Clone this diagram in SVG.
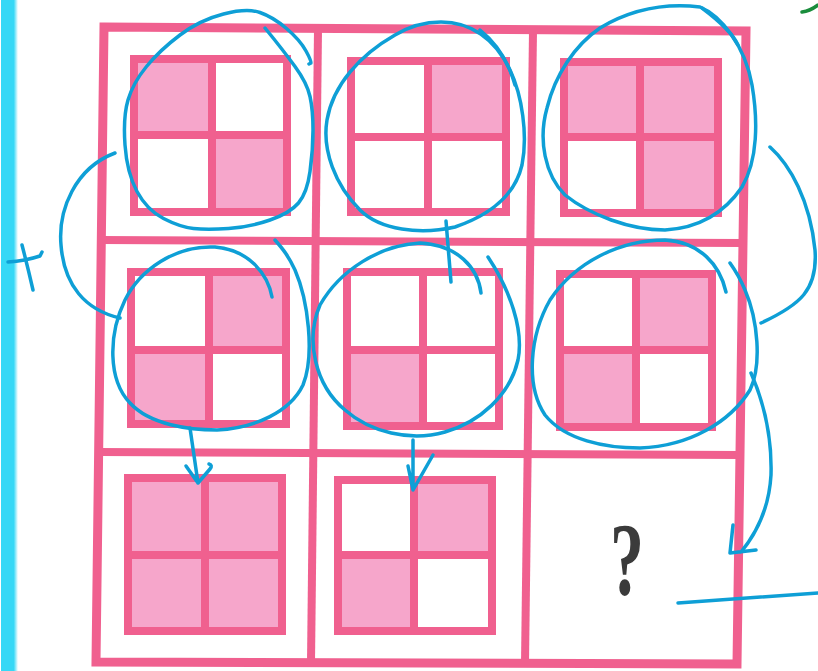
<svg xmlns="http://www.w3.org/2000/svg" width="818" height="671" viewBox="0 0 818 671">
<defs>
<style>
.gl{fill:none;stroke:#f0608f;stroke-width:9;stroke-linejoin:miter}
.dv{stroke:#f0608f;stroke-width:8;fill:none}
.ln{fill:#f0608f}
.pk{fill:#f6a6cb}
.wh{fill:#ffffff}
.bl{fill:none;stroke:#0e9fd6;stroke-width:3.5;stroke-linecap:round;stroke-linejoin:round}
</style>
<linearGradient id="bar" x1="0" x2="1" y1="0" y2="0">
<stop offset="0" stop-color="#36d8f6"/>
<stop offset="0.75" stop-color="#36d8f6"/>
<stop offset="1" stop-color="#36d8f6" stop-opacity="0"/>
</linearGradient>
</defs>
<rect width="818" height="671" fill="#ffffff"/>
<rect x="1" y="0" width="17" height="671" fill="url(#bar)"/>

<g id="grid">
<polygon class="gl" points="104,27 746,31 737,664 96,662"/>
<line class="dv" x1="318" y1="29" x2="311" y2="663"/>
<line class="dv" x1="533" y1="30" x2="525" y2="664"/>
<line class="dv" x1="100" y1="240" x2="742" y2="243"/>
<line class="dv" x1="98" y1="452" x2="740" y2="455"/>
</g>

<g id="cell-r1c1">
<rect class="ln" x="130" y="55" width="161" height="161"/>
<rect class="pk" x="138" y="63" width="70" height="68"/>
<rect class="wh" x="216" y="63" width="67" height="68"/>
<rect class="wh" x="138" y="139" width="70" height="69"/>
<rect class="pk" x="216" y="139" width="67" height="69"/>
</g>
<g id="cell-r1c2">
<rect class="ln" x="347" y="57" width="163" height="159"/>
<rect class="wh" x="355" y="65" width="69" height="68"/>
<rect class="pk" x="432" y="65" width="70" height="68"/>
<rect class="wh" x="355" y="141" width="69" height="67"/>
<rect class="wh" x="432" y="141" width="70" height="67"/>
</g>
<g id="cell-r1c3">
<rect class="ln" x="560" y="58" width="162" height="159"/>
<rect class="pk" x="568" y="66" width="68" height="67"/>
<rect class="pk" x="644" y="66" width="70" height="67"/>
<rect class="wh" x="568" y="141" width="68" height="68"/>
<rect class="pk" x="644" y="141" width="70" height="68"/>
</g>
<g id="cell-r2c1">
<rect class="ln" x="127" y="268" width="163" height="160"/>
<rect class="wh" x="135" y="276" width="70" height="70"/>
<rect class="pk" x="213" y="276" width="69" height="70"/>
<rect class="pk" x="135" y="354" width="70" height="66"/>
<rect class="wh" x="213" y="354" width="69" height="66"/>
</g>
<g id="cell-r2c2">
<rect class="ln" x="343" y="268" width="160" height="162"/>
<rect class="wh" x="351" y="276" width="68" height="70"/>
<rect class="wh" x="427" y="276" width="68" height="70"/>
<rect class="pk" x="351" y="354" width="68" height="68"/>
<rect class="wh" x="427" y="354" width="68" height="68"/>
</g>
<g id="cell-r2c3">
<rect class="ln" x="556" y="270" width="160" height="161"/>
<rect class="wh" x="564" y="278" width="68" height="68"/>
<rect class="pk" x="640" y="278" width="68" height="68"/>
<rect class="pk" x="564" y="354" width="68" height="69"/>
<rect class="wh" x="640" y="354" width="68" height="69"/>
</g>
<g id="cell-r3c1">
<rect class="ln" x="124" y="474" width="162" height="161"/>
<rect class="pk" x="132" y="482" width="69" height="69"/>
<rect class="pk" x="209" y="482" width="69" height="69"/>
<rect class="pk" x="132" y="559" width="69" height="68"/>
<rect class="pk" x="209" y="559" width="69" height="68"/>
</g>
<g id="cell-r3c2">
<rect class="ln" x="334" y="476" width="162" height="159"/>
<rect class="wh" x="342" y="484" width="68" height="67"/>
<rect class="pk" x="418" y="484" width="70" height="67"/>
<rect class="pk" x="342" y="559" width="68" height="68"/>
<rect class="wh" x="418" y="559" width="70" height="68"/>
</g>
<g id="cell-r3c3">
<text x="0" y="0" transform="translate(627,595) scale(0.68,1.04)" text-anchor="middle" font-family="'Liberation Serif', serif" font-weight="bold" font-size="100" fill="#3b3b3b">?</text>
</g>

<g id="annotations">
<path class="bl" d="M265,28 Q283,50 295,66.5 Q307,83 310,96.5 Q313,110 313,130 Q313,150 310,171.5 Q307,193 298.5,203 Q290,213 270,220 Q250,227 228.5,228.5 Q207,230 193.5,228.5 Q180,227 163.5,218.5 Q147,210 137,191.5 Q127,173 125,145 Q123,117 128,100 Q133,83 146.5,66.5 Q160,50 180,35 Q200,20 223.5,14 Q247,8 260,12.5 Q273,17 286.5,28.5 Q300,40 306,51 Q312,62 311,63 L309,64"/>
<path class="bl" d="M115,153 C75,168 58,210 61,245 C64,285 85,310 120,318"/>
<path class="bl" d="M8,262 Q25,261 40,256 L42,252"/>
<path class="bl" d="M22,245 Q28,268 33,290"/>
<path class="bl" d="M272,297 C268,275 250,250 215,247 C175,245 140,270 125,300 C108,335 108,380 130,403 C150,425 190,430 217,430 C255,428 290,412 303,385 C315,355 308,300 295,270 C288,255 282,248 275,240"/>
<path class="bl" d="M190,428 L198,483 M186,466 L198,483 L210,469 Q213,465 209,464"/>
<path class="bl" d="M441,22 C470,22 495,38 510,70 C522,95 528,135 522,165 C515,195 490,215 455,227 C420,235 380,230 360,210 C335,185 322,150 327,120 C333,85 360,55 395,35 C410,26 425,22 441,22"/>
<path class="bl" d="M480,30 C495,42 508,60 515,85"/>
<path class="bl" d="M446,221 L451,282"/>
<path class="bl" d="M481,293 C478,268 458,245 420,243 C380,245 340,270 320,305 C305,340 315,385 345,410 C370,432 410,442 445,432 C480,422 510,395 518,360 C524,330 510,290 488,257"/>
<path class="bl" d="M413,440 L413,490 M408,466 L413,490 L433,455"/>
<path class="bl" d="M700,7 C720,15 745,45 752,85 C758,120 758,160 742,187 C725,212 700,228 665,230 C630,230 590,215 565,195 C545,175 538,140 547,108 C555,75 575,45 600,28 C630,10 665,3 700,7"/>
<path class="bl" d="M702,8 C718,20 732,32 738,45"/>
<path class="bl" d="M770,147 C790,165 810,200 815,250 C818,290 800,305 761,323"/>
<path class="bl" d="M726,292 C720,265 700,242 665,240 C620,240 575,262 550,300 C530,335 525,385 545,415 C565,440 605,448 640,448 C690,446 730,422 750,390 C762,365 758,320 745,290 C740,278 735,270 730,263"/>
<path class="bl" d="M751,373 C765,405 772,440 771,475 C769,510 755,535 741,552 M733,525 L730,553 L756,550"/>
<path class="bl" d="M678,603 L818,593"/>
<path d="M802,12 Q810,11 818,5" fill="none" stroke="#1a8d3c" stroke-width="3.5" stroke-linecap="round"/>
</g>
</svg>
